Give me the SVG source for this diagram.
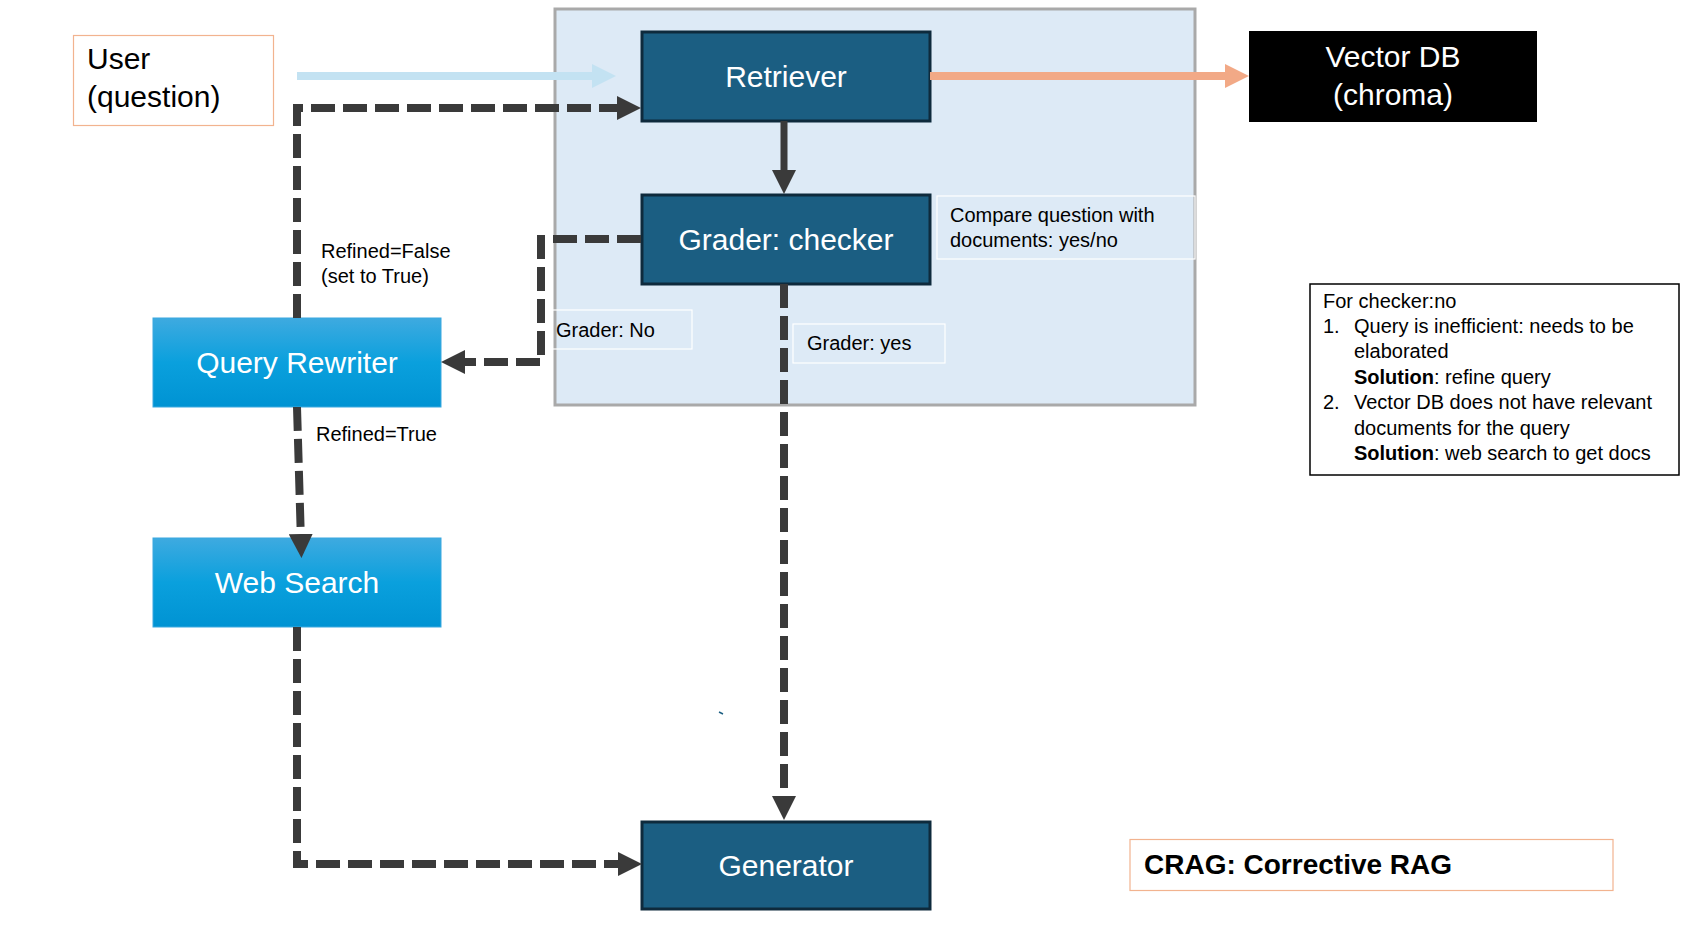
<svg xmlns="http://www.w3.org/2000/svg" width="1686" height="946" viewBox="0 0 1686 946">
<style>
  text { font-family: "Liberation Sans", Arial, sans-serif; }
  .dark { fill: #1B5E82; stroke: #0E2A3C; stroke-width: 3; }
  .light { fill: url(#gBlue); stroke: #3AA8DF; stroke-width: 1; }
  .nodeText { fill: #FFFFFF; font-size: 30px; text-anchor: middle; }
  .lbl { fill: #000000; font-size: 20px; }
  .lblBox { fill: none; stroke: #FFFFFF; stroke-width: 1.2; }
  .dash { fill: none; stroke: #3A3A3A; stroke-width: 8; stroke-dasharray: 24 8; }
</style>
<defs>
  <linearGradient id="gBlue" x1="0" y1="0" x2="0" y2="1">
    <stop offset="0" stop-color="#3EAAE0"/>
    <stop offset="0.5" stop-color="#0AA0DD"/>
    <stop offset="1" stop-color="#0093D3"/>
  </linearGradient>
  <marker id="arrDark" markerUnits="userSpaceOnUse" markerWidth="24" markerHeight="24" refX="8" refY="12" orient="auto" viewBox="0 0 24 24">
    <path d="M0,0 L24,12 L0,24 z" fill="#3A3A3A"/>
  </marker>
  <marker id="arrBlue" markerUnits="userSpaceOnUse" markerWidth="24" markerHeight="24" refX="8" refY="12" orient="auto" viewBox="0 0 24 24">
    <path d="M0,0 L24,12 L0,24 z" fill="#C3E2F2"/>
  </marker>
  <marker id="arrOrange" markerUnits="userSpaceOnUse" markerWidth="24" markerHeight="24" refX="8" refY="12" orient="auto" viewBox="0 0 24 24">
    <path d="M0,0 L24,12 L0,24 z" fill="#F2A986"/>
  </marker>
</defs>
<rect x="0" y="0" width="1686" height="946" fill="#FFFFFF"/>

<g id="container">
  <rect x="555" y="9" width="640" height="396" fill="#DDEAF6" stroke="#A9A9A9" stroke-width="3"/>
</g>

<g id="user">
  <rect x="73.5" y="35.5" width="200" height="90" fill="#FFFFFF" stroke="#F2B38F" stroke-width="1.2"/>
  <text x="87" y="69" font-size="30px" fill="#000">User</text>
  <text x="87" y="107" font-size="30px" fill="#000">(question)</text>
</g>

<g id="retriever">
  <rect class="dark" x="642" y="32" width="288" height="89"/>
  <text class="nodeText" x="786" y="87">Retriever</text>
</g>

<g id="grader">
  <rect class="dark" x="642" y="195" width="288" height="89"/>
  <text class="nodeText" x="786" y="250">Grader: checker</text>
</g>

<g id="compare-note">
  <rect class="lblBox" x="937" y="196" width="258" height="63"/>
  <text class="lbl" x="950" y="222">Compare question with</text>
  <text class="lbl" x="950" y="247">documents: yes/no</text>
</g>

<g id="grader-no-label">
  <rect class="lblBox" x="544" y="310" width="148" height="39"/>
  <text class="lbl" x="556" y="337">Grader: No</text>
</g>

<g id="grader-yes-label">
  <rect class="lblBox" x="793" y="324" width="152" height="39"/>
  <text class="lbl" x="807" y="350">Grader: yes</text>
</g>

<g id="vectordb">
  <rect x="1249" y="31" width="288" height="91" fill="#000000"/>
  <text class="nodeText" x="1393" y="67">Vector DB</text>
  <text class="nodeText" x="1393" y="105">(chroma)</text>
</g>

<g id="refined-false-label">
  <text class="lbl" x="321" y="258">Refined=False</text>
  <text class="lbl" x="321" y="283">(set to True)</text>
</g>

<g id="query-rewriter">
  <rect class="light" x="153" y="318" width="288" height="89"/>
  <text class="nodeText" x="297" y="373">Query Rewriter</text>
</g>

<g id="refined-true-label">
  <text class="lbl" x="316" y="441">Refined=True</text>
</g>

<g id="web-search">
  <rect class="light" x="153" y="538" width="288" height="89"/>
  <text class="nodeText" x="297" y="593">Web Search</text>
</g>

<g id="generator">
  <rect class="dark" x="642" y="822" width="288" height="87"/>
  <text class="nodeText" x="786" y="876">Generator</text>
</g>

<g id="connectors">
  <path d="M297,76 H600" fill="none" stroke="#C3E2F2" stroke-width="8" marker-end="url(#arrBlue)"/>
  <path d="M930,76 H1233" fill="none" stroke="#F2A986" stroke-width="8" marker-end="url(#arrOrange)"/>
  <path d="M784,121 V178" fill="none" stroke="#3A3A3A" stroke-width="7" marker-end="url(#arrDark)"/>
  <path class="dash" d="M297,318 V108 H625" marker-end="url(#arrDark)"/>
  <path class="dash" d="M641,239 H541 V362 H457" marker-end="url(#arrDark)"/>
  <path class="dash" d="M297,407 L301,542" marker-end="url(#arrDark)"/>
  <path class="dash" d="M784,284 V804" marker-end="url(#arrDark)"/>
  <path class="dash" d="M297,627 V864 H626" marker-end="url(#arrDark)"/>
</g>

<g id="tick">
  <line x1="719" y1="712" x2="723" y2="714" stroke="#1B5E82" stroke-width="1.5"/>
</g>

<g id="checker-note">
  <rect x="1310" y="284" width="369" height="191" fill="#FFFFFF" stroke="#000000" stroke-width="1.5"/>
  <text class="lbl" x="1323" y="308">For checker:no</text>
  <text class="lbl" x="1323" y="333">1.</text>
  <text class="lbl" x="1354" y="333">Query is inefficient: needs to be</text>
  <text class="lbl" x="1354" y="358">elaborated</text>
  <text class="lbl" x="1354" y="384"><tspan font-weight="bold">Solution</tspan>: refine query</text>
  <text class="lbl" x="1323" y="409">2.</text>
  <text class="lbl" x="1354" y="409">Vector DB does not have relevant</text>
  <text class="lbl" x="1354" y="435">documents for the query</text>
  <text class="lbl" x="1354" y="460"><tspan font-weight="bold">Solution</tspan>: web search to get docs</text>
</g>

<g id="title">
  <rect x="1130" y="839.5" width="483" height="51" fill="#FFFFFF" stroke="#F2B38F" stroke-width="1.2"/>
  <text x="1144" y="874" font-size="28px" font-weight="bold" fill="#000">CRAG: Corrective RAG</text>
</g>
</svg>
